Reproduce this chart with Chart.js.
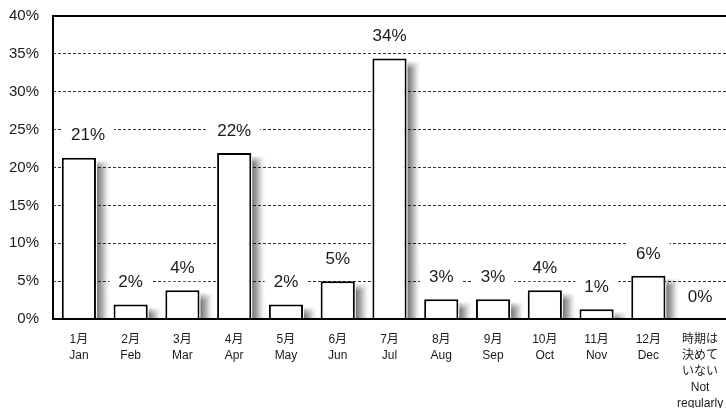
<!DOCTYPE html>
<html>
<head>
<meta charset="utf-8">
<script src="https://cdn.jsdelivr.net/npm/chart.js@4/dist/chart.umd.min.js"></script>
<style>
  html, body { margin: 0; padding: 0; background: #ffffff; }
  #wrap { width: 726px; height: 408px; }
</style>
</head>
<body>
<div id="wrap"><canvas id="c" width="726" height="408"></canvas></div>
<script>
// ---- data ----
const monthsJa = ['1月','2月','3月','4月','5月','6月','7月','8月','9月','10月','11月','12月'];
const monthsEn = ['Jan','Feb','Mar','Apr','May','Jun','Jul','Aug','Sep','Oct','Nov','Dec'];
const lastLabel = ['時期は','決めて','いない','Not','regularly'];
const values = [21.3, 1.9, 3.8, 21.9, 1.9, 5.0, 34.4, 2.6, 2.6, 3.8, 1.3, 5.7, 0];
const yTickStep = 5;
const yMax = 40;

const categories = monthsJa.map((m, i) => [m, monthsEn[i]]).concat([lastLabel]);

const FONT = '"Liberation Sans", Arial, "Noto Sans CJK JP", sans-serif';

// soft shadow to the right of each bar
const shadowPlugin = {
  id: 'barShadow',
  beforeDatasetsDraw(chart) {
    const ctx = chart.ctx;
    const meta = chart.getDatasetMeta(0);
    const bottom = chart.scales.y.getPixelForValue(0);
    ctx.save();
    meta.data.forEach((el) => {
      const h = bottom - el.y;
      if (h < 2) return;
      const right = el.x + el.width / 2 + 1;
      const top = el.y + 3;
      const sw = 14;
      for (let k = 0; k < 7; k++) {
        const g = ctx.createLinearGradient(right, 0, right + sw - k, 0);
        g.addColorStop(0, 'rgba(0,0,0,0.1)');
        g.addColorStop(1, 'rgba(0,0,0,0)');
        ctx.fillStyle = g;
        const t = Math.min(top + k * 1.2, bottom);
        ctx.fillRect(right, t, sw - k, bottom - t);
      }
    });
    ctx.restore();
  }
};

const framePlugin = {
  id: 'frame',
  afterDatasetsDraw(chart) {
    const ctx = chart.ctx;
    const a = chart.chartArea;
    const ys = chart.scales.y;
    const meta = chart.getDatasetMeta(0);
    ctx.save();
    ctx.font = '17px ' + FONT;
    ctx.textAlign = 'center';
    ctx.textBaseline = 'middle';
    meta.data.forEach((el, i) => {
      const txt = Math.round(values[i]) + '%';
      const w = ctx.measureText(txt).width;
      const cx = Math.max(el.x, a.left + w / 2 + 18);
      const cy = el.y - 22;
      ctx.fillStyle = '#ffffff';
      ctx.fillRect(cx - w / 2 - 9, cy - 13, w + 18, 26);
      ctx.fillStyle = '#1a1a1a';
      ctx.fillText(txt, cx, cy);
    });
    ctx.strokeStyle = '#000000';
    ctx.lineWidth = 2;
    ctx.beginPath();
    const yTop = ys.getPixelForValue(yMax);
    const yBot = ys.getPixelForValue(0);
    ctx.moveTo(a.left, yTop);
    ctx.lineTo(a.right, yTop);
    ctx.moveTo(a.left, yTop - 1);
    ctx.lineTo(a.left, yBot + 1);
    ctx.moveTo(a.left, yBot);
    ctx.lineTo(a.right, yBot);
    ctx.stroke();
    ctx.restore();
  }
};

new Chart(document.getElementById('c'), {
  type: 'bar',
  data: {
    labels: categories,
    datasets: [{
      data: values,
      backgroundColor: '#ffffff',
      borderColor: '#000000',
      borderWidth: 2,
      borderSkipped: 'bottom',
      barPercentage: 0.66,
      categoryPercentage: 1.0
    }]
  },
  options: {
    responsive: false,
    animation: false,
    devicePixelRatio: 1,
    layout: { padding: { top: 16, right: 0, left: 0, bottom: 0 } },
    plugins: { legend: { display: false }, tooltip: { enabled: false } },
    scales: {
      x: {
        grid: { display: false, drawTicks: false },
        border: { display: false },
        ticks: {
          color: '#1a1a1a',
          font: { family: FONT, size: 12, lineHeight: 1.33 },
          padding: 13,
          maxRotation: 0,
          autoSkip: false
        },
        afterFit(scale) {
          scale.height = 89;
          scale.paddingLeft = 0;
          scale.paddingRight = 0;
        }
      },
      y: {
        min: 0,
        max: yMax,
        grid: {
          color: (c) => (c.tick && (c.tick.value === 0 || c.tick.value === yMax)) ? 'rgba(0,0,0,0)' : '#333333',
          lineWidth: 1,
          drawTicks: false
        },
        border: { display: false, dash: [3, 2] },
        ticks: {
          stepSize: yTickStep,
          color: '#1a1a1a',
          font: { family: FONT, size: 15 },
          padding: 14,
          callback: (v) => v + '%'
        },
        afterFit(scale) {
          scale.width = 53;
          scale.paddingTop = 0;
          scale.paddingBottom = 0;
        }
      }
    }
  },
  plugins: [shadowPlugin, framePlugin]
});
</script>
</body>
</html>
